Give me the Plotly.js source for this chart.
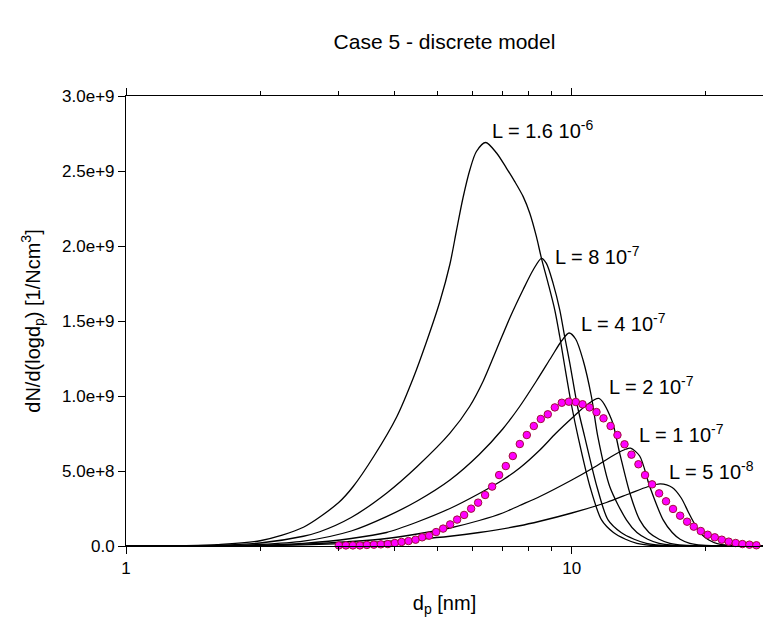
<!DOCTYPE html>
<html>
<head>
<meta charset="utf-8">
<script src="https://cdn.plot.ly/plotly-3.0.1.min.js"></script>
<style>html,body{margin:0;padding:0;background:#fff;}</style>
</head>
<body>
<div id="chart" style="width:763px;height:629px;"></div>
<script>
// Values in units of 1e9 [1/Ncm^3]; diameters in nm
var SCALE = 1e9;

var L16e7_d = [1.0, 1.3, 1.6, 2.0, 2.5, 3.0, 3.23, 3.6, 4.05, 4.41, 4.72, 5.06, 5.33, 5.51, 5.70, 5.91, 6.11, 6.41, 6.78, 7.14, 7.45, 7.78, 8.05, 8.33, 8.55, 8.85, 9.16, 9.40, 9.64, 10.0, 10.33, 11.0, 11.66, 12.4, 13.2, 14.0, 15.0, 17.0, 27.0];
var L16e7_v = [0.0, 0.002, 0.009, 0.035, 0.125, 0.29, 0.395, 0.60, 0.862, 1.12, 1.36, 1.63, 1.88, 2.10, 2.32, 2.51, 2.63, 2.69, 2.62, 2.518, 2.429, 2.329, 2.218, 2.062, 1.918, 1.751, 1.573, 1.395, 1.20, 0.93, 0.728, 0.39, 0.174, 0.09, 0.045, 0.018, 0.005, 0.0, 0.0];

var L8e7_d = [1.0, 1.3, 1.6, 2.0, 2.5, 2.72, 3.2, 3.84, 4.5, 5.33, 5.9, 6.33, 6.78, 7.26, 7.78, 8.19, 8.55, 8.77, 9.08, 9.40, 9.64, 9.90, 10.3, 10.69, 11.4, 12.06, 12.9, 13.8, 14.7, 15.8, 18.0, 27.0];
var L8e7_v = [0.0, 0.001, 0.005, 0.02, 0.065, 0.095, 0.19, 0.352, 0.53, 0.752, 0.93, 1.10, 1.31, 1.52, 1.71, 1.84, 1.918, 1.884, 1.751, 1.573, 1.395, 1.218, 0.93, 0.728, 0.39, 0.174, 0.09, 0.045, 0.018, 0.005, 0.0, 0.0];

var L4e7_d = [1.0, 1.3, 1.6, 2.0, 2.5, 3.2, 3.84, 4.5, 5.33, 6.2, 7.0, 7.64, 8.33, 9.0, 9.5, 9.86, 10.2, 10.6, 11.07, 11.44, 12.17, 13.27, 14.0, 14.8, 15.7, 16.8, 19.0, 27.0];
var L4e7_v = [0.0, 0.001, 0.003, 0.01, 0.032, 0.10, 0.196, 0.30, 0.44, 0.61, 0.78, 0.93, 1.10, 1.26, 1.37, 1.42, 1.38, 1.24, 0.995, 0.729, 0.395, 0.173, 0.09, 0.045, 0.018, 0.005, 0.0, 0.0];

var L2e7_d = [1.0, 1.6, 2.0, 2.5, 3.2, 3.84, 4.5, 5.33, 6.2, 7.0, 7.64, 8.48, 9.2, 10.07, 10.8, 11.5, 12.29, 12.81, 13.5, 14.2, 14.9, 15.7, 16.6, 17.8, 21.0, 27.0];
var L2e7_v = [0.0, 0.002, 0.005, 0.018, 0.05, 0.09, 0.16, 0.25, 0.35, 0.44, 0.52, 0.64, 0.75, 0.86, 0.94, 0.984, 0.84, 0.618, 0.352, 0.174, 0.09, 0.045, 0.018, 0.005, 0.0, 0.0];

var L1e7_d = [1.0, 1.6, 2.0, 2.5, 3.2, 3.84, 4.5, 5.33, 6.2, 7.0, 7.64, 8.48, 10.0, 11.16, 12.5, 13.2, 13.55, 14.2, 14.96, 16.03, 16.8, 17.5, 18.4, 19.6, 23.0, 27.0];
var L1e7_v = [0.0, 0.001, 0.003, 0.012, 0.03, 0.05, 0.08, 0.12, 0.17, 0.22, 0.27, 0.33, 0.44, 0.52, 0.61, 0.645, 0.652, 0.60, 0.396, 0.174, 0.09, 0.045, 0.018, 0.005, 0.0, 0.0];

var L5e8_d = [1.0, 1.6, 2.0, 2.5, 3.2, 3.84, 4.5, 5.33, 6.2, 7.64, 8.48, 10.0, 11.96, 13.5, 14.8, 15.8, 16.8, 17.6, 18.3, 19.0, 19.6, 20.3, 21.2, 22.5, 26.0, 27.0];
var L5e8_v = [0.0, 0.001, 0.002, 0.008, 0.018, 0.03, 0.045, 0.065, 0.09, 0.135, 0.165, 0.22, 0.29, 0.35, 0.395, 0.414, 0.39, 0.32, 0.22, 0.13, 0.075, 0.04, 0.016, 0.005, 0.0, 0.0];

var dots_d = [3.003, 3.114, 3.228, 3.347, 3.470, 3.598, 3.730, 3.867, 4.010, 4.151, 4.303, 4.462, 4.616, 4.786, 4.962, 5.145, 5.334, 5.531, 5.734, 5.946, 6.164, 6.391, 6.627, 6.871, 7.112, 7.374, 7.645, 7.927, 8.219, 8.521, 8.835, 9.161, 9.497, 9.847, 10.21, 10.57, 10.96, 11.36, 11.78, 12.22, 12.66, 13.13, 13.61, 14.11, 14.60, 15.14, 15.70, 16.27, 16.87, 17.50, 18.14, 18.78, 19.47, 20.18, 20.93, 21.70, 22.49, 23.32, 24.14, 25.03, 25.95, 26.90];
var dots_v = [0.004, 0.004, 0.004, 0.004, 0.007, 0.009, 0.011, 0.013, 0.020, 0.027, 0.033, 0.042, 0.058, 0.069, 0.093, 0.116, 0.144, 0.176, 0.207, 0.249, 0.289, 0.340, 0.396, 0.473, 0.533, 0.600, 0.680, 0.740, 0.800, 0.847, 0.878, 0.924, 0.955, 0.962, 0.960, 0.945, 0.924, 0.893, 0.851, 0.800, 0.740, 0.678, 0.609, 0.545, 0.473, 0.411, 0.351, 0.298, 0.247, 0.202, 0.162, 0.129, 0.100, 0.075, 0.058, 0.042, 0.029, 0.020, 0.013, 0.009, 0.005, 0.004];

var yTickVals = [0, 0.5, 1.0, 1.5, 2.0, 2.5, 3.0];
var yTickText = ['0.0', '5.0e+8', '1.0e+9', '1.5e+9', '2.0e+9', '2.5e+9', '3.0e+9'];
var xTickVals = [1, 10];
var xTickText = ['1', '10'];
var xMinorVals = [2, 3, 4, 5, 6, 7, 8, 9, 20];

var curveLabels = ['L = 1.6 10<sup>-6</sup>', 'L = 8 10<sup>-7</sup>', 'L = 4 10<sup>-7</sup>', 'L = 2 10<sup>-7</sup>', 'L = 1 10<sup>-7</sup>', 'L = 5 10<sup>-8</sup>'];

function sc(a) { return a.map(function (v) { return v * SCALE; }); }

var curves = [[L16e7_d, L16e7_v], [L8e7_d, L8e7_v], [L4e7_d, L4e7_v], [L2e7_d, L2e7_v], [L1e7_d, L1e7_v], [L5e8_d, L5e8_v]];
var traces = curves.map(function (c) {
  return {
    x: c[0], y: sc(c[1]), mode: 'lines', type: 'scatter',
    line: {color: '#000', width: 1.3, shape: 'spline', smoothing: 0.8},
    hoverinfo: 'skip', showlegend: false
  };
});
traces.push({
  x: dots_d, y: sc(dots_v), mode: 'markers', type: 'scatter',
  marker: {color: '#ff00ff', size: 7.5, line: {color: '#a0103a', width: 1}},
  showlegend: false, cliponaxis: false
});

// label positions in pixel space of the page
var labelPx = [[490, 129], [553, 255], [579, 322], [607, 385], [637, 433], [667, 470]];
var L = 126, T = 96, W = 637, H = 450;
var annotations = curveLabels.map(function (t, i) {
  return {
    text: t, xref: 'paper', yref: 'paper',
    x: (labelPx[i][0] - L) / W, y: (T + H - labelPx[i][1]) / H,
    xanchor: 'left', yanchor: 'middle', showarrow: false,
    font: {family: 'Liberation Sans, Arial, sans-serif', size: 20, color: '#000'}
  };
});

var layout = {
  width: 763, height: 629,
  margin: {l: L, r: 0, t: T, b: 629 - T - H},
  paper_bgcolor: '#fff', plot_bgcolor: '#fff',
  font: {family: 'Liberation Sans, Arial, sans-serif', color: '#000'},
  title: {
    text: 'Case 5 - discrete model', xref: 'paper', x: 0.5, xanchor: 'center',
    yref: 'container', y: 1 - 42 / 629, yanchor: 'middle',
    font: {size: 21, color: '#000'}
  },
  xaxis: {
    type: 'log', range: [0, Math.log10(26.85)],
    showgrid: false, zeroline: false,
    showline: true, linecolor: '#000', linewidth: 1, mirror: 'ticks',
    ticks: 'outside', ticklen: 7, tickcolor: '#000', tickwidth: 1,
    tickvals: xTickVals, ticktext: xTickText,
    tickfont: {size: 17, color: '#000'},
    minor: {ticks: 'outside', ticklen: 4, tickcolor: '#000', tickwidth: 1, tickvals: xMinorVals, showgrid: false},
    title: {text: 'd<sub>p</sub> [nm]', font: {size: 20, color: '#000'}, standoff: 18}
  },
  yaxis: {
    range: [0, 3.0e9], showgrid: false, zeroline: false,
    showline: true, linecolor: '#000', linewidth: 1,
    ticks: 'outside', ticklen: 7, tickcolor: '#000', tickwidth: 1,
    tickvals: sc(yTickVals), ticktext: yTickText,
    tickfont: {size: 17, color: '#000'},
    title: {text: 'dN/d(logd<sub>p</sub>) [1/Ncm<sup>3</sup>]', font: {size: 20, color: '#000'}, standoff: 16}
  },
  annotations: annotations,
  showlegend: false
};

Plotly.newPlot('chart', traces, layout, {staticPlot: true, displayModeBar: false});
</script>
</body>
</html>
